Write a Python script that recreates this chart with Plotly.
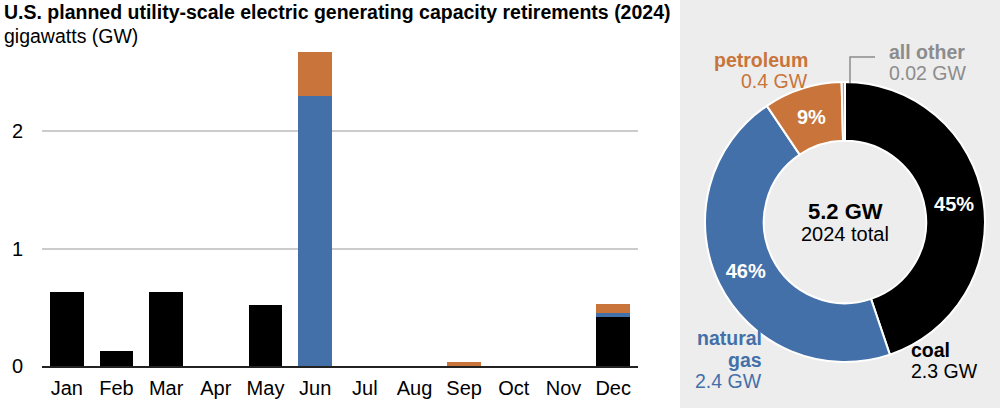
import plotly.graph_objects as go

months = ["Jan", "Feb", "Mar", "Apr", "May", "Jun", "Jul", "Aug", "Sep", "Oct", "Nov", "Dec"]
coal = [0.63, 0.13, 0.63, 0, 0.52, 0, 0, 0, 0, 0, 0, 0.42]
natural_gas = [0, 0, 0, 0, 0, 2.30, 0, 0, 0, 0, 0, 0.035]
petroleum = [0, 0, 0, 0, 0, 0.37, 0, 0, 0.035, 0, 0, 0.075]

y_ticks = [0, 1, 2]

fuel_names = ["coal", "natural gas", "petroleum", "all other"]
annual_gw = [2.33, 2.38, 0.47, 0.02]
annual_labels = ["2.3 GW", "2.4 GW", "0.4 GW", "0.02 GW"]
total_label = "5.2 GW"

C_COAL = "#000000"
C_GAS = "#4470a9"
C_PET = "#c8743a"
C_OTHER = "#a6a6a6"
C_OTHER_TXT = "#8c8c8c"
BG = "#ededed"
FONT = "Liberation Sans, Arial, sans-serif"
FS = 20
LS = 19.5
W, H = 1000, 408

def py(p):
    return 1 - p / H

def px(p):
    return p / W

fig = go.Figure()
for name, vals, col in [("coal", coal, C_COAL), ("natural gas", natural_gas, C_GAS), ("petroleum", petroleum, C_PET)]:
    fig.add_trace(go.Bar(x=months, y=vals, name=name, marker=dict(color=col, line=dict(width=0)),
                         hoverinfo="skip", showlegend=False))

total = sum(annual_gw)
pct_text = [f"<b>{round(v / total * 100)}%</b>" if v / total > 0.02 else "" for v in annual_gw]
fig.add_trace(go.Pie(
    labels=fuel_names, values=annual_gw, text=pct_text, textinfo="text",
    textposition="inside", insidetextorientation="horizontal",
    insidetextfont=dict(color="white", size=FS, family=FONT),
    hole=0.58, sort=False, direction="clockwise", rotation=0,
    marker=dict(colors=[C_COAL, C_GAS, C_PET, C_OTHER], line=dict(color="white", width=2)),
    domain=dict(x=[px(705), px(985)], y=[py(362), py(82)]),
    showlegend=False, hoverinfo="skip",
))

fig.update_layout(
    width=W, height=H, autosize=False,
    margin=dict(l=0, r=0, t=0, b=0, pad=0),
    paper_bgcolor="white", plot_bgcolor="white",
    barmode="stack", bargap=0.32,
    font=dict(family=FONT, size=FS, color="black"),
    xaxis=dict(domain=[px(42), px(638)], showline=True, linecolor="#222222", linewidth=2,
               ticks="", showgrid=False, tickfont=dict(size=FS), ticklabelstandoff=3,
               fixedrange=True, automargin=False),
    yaxis=dict(domain=[py(366), py(48.75)], range=[0, 2.7], tickvals=y_ticks,
               showgrid=True, gridcolor="#cccccc", gridwidth=1.5, zeroline=False,
               ticks="", tickfont=dict(size=FS), ticklabelstandoff=18, fixedrange=True,
               automargin=False),
    shapes=[
        dict(type="rect", xref="paper", yref="paper", x0=px(680), x1=1, y0=0, y1=1,
             fillcolor=BG, line=dict(width=0), layer="below"),
        dict(type="path", xref="paper", yref="paper",
             path=f"M {px(850)} {py(83)} L {px(850)} {py(57)} L {px(875)} {py(57)}",
             line=dict(color=C_OTHER_TXT, width=1.5)),
    ],
)

def ann(text, x, y, xanchor="left", color="black", size=LS, bold=False):
    t = f"<b>{text}</b>" if bold else text
    fig.add_annotation(text=t, x=px(x), y=py(y), xref="paper", yref="paper",
                       xanchor=xanchor, yanchor="middle", showarrow=False,
                       font=dict(family=FONT, size=size, color=color))

ann("U.S. planned utility-scale electric generating capacity retirements (2024)", 2, 12, bold=True)
ann("gigawatts (GW)", 2, 36)

ann("petroleum", 810, 60, "right", C_PET, bold=True)
ann(annual_labels[2], 810, 81, "right", C_PET)
ann("all other", 887, 52, "left", C_OTHER_TXT, bold=True)
ann(annual_labels[3], 887, 73, "left", C_OTHER_TXT)
ann("natural", 764, 338, "right", C_GAS, bold=True)
ann("gas", 764, 360, "right", C_GAS, bold=True)
ann(annual_labels[1], 764, 381, "right", C_GAS)
ann("coal", 909, 350, "left", C_COAL, bold=True)
ann(annual_labels[0], 909, 371, "left", C_COAL)

ann(total_label, 845, 211, "center", bold=True, size=22)
ann("2024 total", 845, 234, "center", size=FS)

fig.write_html("out.html", config={"displayModeBar": False},
               post_script="document.body.style.margin='0';")
